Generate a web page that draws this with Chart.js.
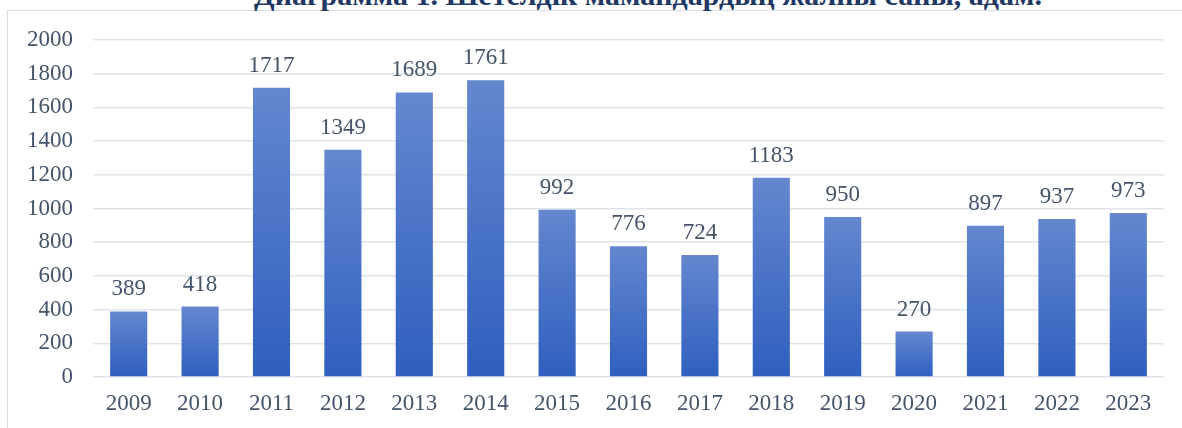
<!DOCTYPE html>
<html>
<head>
<meta charset="utf-8">
<script src="https://cdn.jsdelivr.net/npm/chart.js@4/dist/chart.umd.min.js"></script>
<style>
  html, body { margin: 0; padding: 0; background: #fff; }
  #wrap { position: relative; width: 1182px; height: 428px; overflow: hidden; }
  #frame { position: absolute; left: 7px; top: 10px; width: 1200px; height: 450px;
           border: 1.5px solid #d9dde4; box-sizing: border-box; }
  #title { position: absolute; left: 0; width: 1296px; top: -22px; text-align: center;
           font: bold 30px "Liberation Serif", "Times New Roman", serif; color: #1f3864; white-space: nowrap; }
  canvas { position: absolute; left: 0; top: 0; }
</style>
</head>
<body>
<div id="wrap">
  <div id="frame"></div>
  <div id="title">Диаграмма 1. Шетелдік мамандардың жалпы саны, адам.</div>
  <canvas id="myChart" width="1182" height="428"></canvas>
</div>
<script>
const years = ['2009', '2010', '2011', '2012', '2013', '2014', '2015', '2016', '2017', '2018', '2019', '2020', '2021', '2022', '2023'];
const specialists = [389, 418, 1717, 1349, 1689, 1761, 992, 776, 724, 1183, 950, 270, 897, 937, 973];
const yTicks = [0, 200, 400, 600, 800, 1000, 1200, 1400, 1600, 1800, 2000];

const textColor = '#44546a';
const serif = '"Liberation Serif", "Times New Roman", serif';

// each bar gets its own vertical gradient, light at the top
function barGradient(context) {
    const chart = context.chart;
    const y = chart.scales.y;
    if (!y || context.raw === undefined) return '#4a76c8';
    const top = y.getPixelForValue(context.raw);
    const bottom = y.getPixelForValue(0);
    if (!isFinite(top) || !isFinite(bottom) || top === bottom) return '#4a76c8';
    const g = chart.ctx.createLinearGradient(0, top, 0, bottom);
    g.addColorStop(0, '#6487cf');
    g.addColorStop(1, '#2f5fbf');
    return g;
}

const valueLabels = {
    id: 'valueLabels',
    afterDatasetsDraw: (chart) => {
        const ctx = chart.ctx;
        const meta = chart.getDatasetMeta(0);
        ctx.save();
        ctx.font = '23px ' + serif;
        ctx.fillStyle = textColor;
        ctx.textAlign = 'center';
        ctx.textBaseline = 'alphabetic';
        meta.data.forEach((bar, i) => {
            ctx.fillText(String(specialists[i]), bar.x, bar.y - 16);
        });
        ctx.restore();
    }
};

const ctx = document.getElementById('myChart').getContext('2d');
const chart = new Chart(ctx, {
    type: 'bar',
    data: {
        labels: years,
        datasets: [{
            data: specialists,
            backgroundColor: barGradient,
            barPercentage: 0.52,
            categoryPercentage: 1.0
        }]
    },
    options: {
        responsive: false,
        animation: false,
        layout: { padding: { top: 40, right: 18, left: 0, bottom: 0 } },
        plugins: {
            legend: { display: false },
            tooltip: { enabled: false }
        },
        scales: {
            x: {
                grid: { display: false, drawTicks: false },
                border: { display: false },
                ticks: {
                    color: textColor,
                    font: { family: serif, size: 23 },
                    padding: 13,
                    maxRotation: 0
                },
                afterFit: (scale) => { scale.height = 51; }
            },
            y: {
                min: 0,
                max: 2000,
                afterBuildTicks: (scale) => { scale.ticks = yTicks.map(v => ({ value: v })); },
                grid: { color: '#dfe3ea', lineWidth: 1.6, drawTicks: false },
                border: { display: false },
                ticks: {
                    color: textColor,
                    font: { family: serif, size: 23 },
                    padding: 20,
                    callback: (v) => String(v)
                },
                afterFit: (scale) => { scale.width = 93; }
            }
        }
    },
    plugins: [valueLabels]
});
// second pass so the gradients use the laid-out scale
chart.update();
</script>
</body>
</html>
